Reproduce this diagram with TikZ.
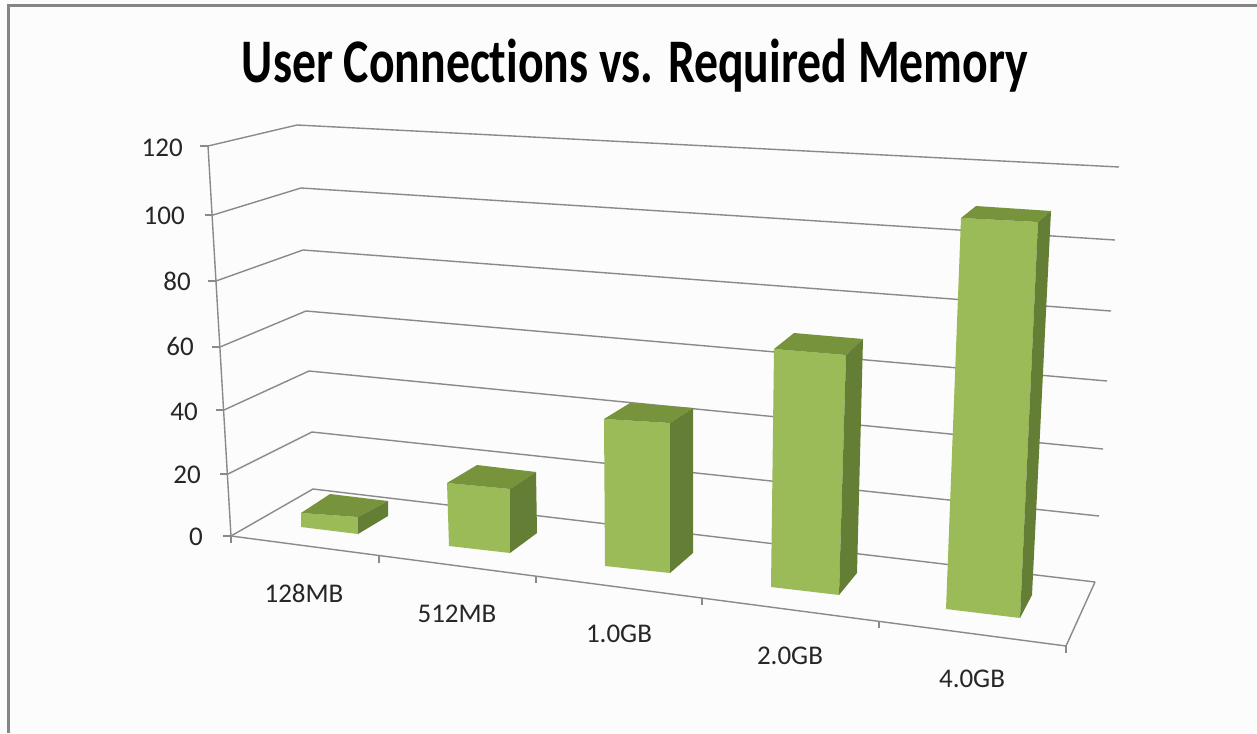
\documentclass[tikz,border=0pt]{standalone}
\usepackage{fontspec}
\setmainfont{Carlito}[Ligatures=NoCommon]
\definecolor{gridgray}{HTML}{8A8A8A}
\definecolor{framegray}{HTML}{858585}
\definecolor{barfront}{HTML}{9BBB59}
\definecolor{bartop}{HTML}{77933C}
\definecolor{barside}{HTML}{647F35}
\tikzset{
  grid line/.style={draw=gridgray, line width=1.4pt, line join=round},
  tick line/.style={draw=gridgray, line width=1.4pt},
  frame line/.style={draw=framegray, line width=3pt},
  front face/.style={fill=barfront, draw=none},
  top face/.style={fill=bartop, draw=none},
  side face/.style={fill=barside, draw=none},
  value label/.style={anchor=base east, inner sep=0pt, font=\fontsize{27}{32}\selectfont, text=black!85},
  cat label/.style={anchor=base, inner sep=0pt, font=\fontsize{27}{32}\selectfont, text=black!85},
  title label/.style={anchor=base, inner sep=0pt, font=\fontsize{62}{72}\selectfont\bfseries}
}
\begin{document}
\begin{tikzpicture}[x=1pt, y=-1pt]
\useasboundingbox (0,0) rectangle (1257,733);
\fill[white!99!black] (0,0) rectangle (1257,733);

% chart frame
\draw[frame line] (8,733) -- (8,6) -- (1257,6);

% title
\node[title label] (title) at (635,83) {\scalebox{0.77}[1]{User Connections vs. Required Memory}};

% wall corners: axis point, back corner, back-right end for each value level
\foreach \v/\ax/\ay/\bx/\by/\rx/\ry in {
  120/208/146/297/125/1119/167,
  100/213/215/301/188/1115/240,
  80/216/281/303/250/1111/311,
  60/220/347/306/311/1107/381,
  40/224/410/309/371/1103/449,
  20/228/474/312/432/1099/516,
  0/231/536/313/489/1095/582}{
  \coordinate (a\v) at (\ax,\ay);
  \coordinate (b\v) at (\bx,\by);
  \coordinate (r\v) at (\rx,\ry);
  \draw[grid line] (a\v) -- (b\v) -- (r\v);
  \draw[tick line] (a\v) -- ++(-8,0);
}

% value axis
\draw[grid line] (a120) -- (a0);

% floor front and right edges
\coordinate (fr) at (1066,646);
\draw[grid line] (a0) -- (fr) -- (r0);

% category ticks along the front edge
\foreach \tx/\ty in {231/536, 379/555.5, 536/576, 702/598, 879/621, 1066/646}{
  \draw[tick line] (\tx,\ty) -- ++(0,7);
}

% value labels
\node[value label] (v120) at (183,156) {120};
\node[value label] (v100) at (185,224) {100};
\node[value label] (v80)  at (191,290) {80};
\node[value label] (v60)  at (194,355) {60};
\node[value label] (v40)  at (198,420) {40};
\node[value label] (v20)  at (201,483) {20};
\node[value label] (v0)   at (203,545) {0};

% bars: front / top / side faces
% 128MB
\fill[front face] (301,513) -- (358,517) -- (358,534) -- (301,527) -- cycle;
\fill[top face]   (301,513) -- (330,494) -- (388,501) -- (358,517) -- cycle;
\fill[side face]  (358,517) -- (388,501) -- (388,516) -- (358,534) -- cycle;
% 512MB
\fill[front face] (447,483) -- (510,489) -- (510,553) -- (449,546) -- cycle;
\fill[top face]   (447,483) -- (477,465) -- (536,472) -- (510,489) -- cycle;
\fill[side face]  (510,489) -- (536,472) -- (537,533) -- (510,553) -- cycle;
% 1.0GB
\fill[front face] (604,419) -- (670,423) -- (670,573) -- (605,566) -- cycle;
\fill[top face]   (604,419) -- (630,403) -- (693,408) -- (670,423) -- cycle;
\fill[side face]  (670,423) -- (693,408) -- (693,553) -- (670,573) -- cycle;
% 2.0GB
\fill[front face] (774,349) -- (846,355) -- (839,595) -- (771,587) -- cycle;
\fill[top face]   (774,349) -- (794,333) -- (863,339) -- (846,355) -- cycle;
\fill[side face]  (846,355) -- (863,339) -- (857,573) -- (839,595) -- cycle;
% 4.0GB
\fill[front face] (961,218) -- (1038,222) -- (1020,618) -- (946,609) -- cycle;
\fill[top face]   (961,218) -- (976,206) -- (1051,211) -- (1038,222) -- cycle;
\fill[side face]  (1038,222) -- (1051,211) -- (1032,595) -- (1020,618) -- cycle;

% category labels
\node[cat label] (c1) at (304,602) {128MB};
\node[cat label] (c2) at (457,622) {512MB};
\node[cat label] (c3) at (619,642) {1.0GB};
\node[cat label] (c4) at (790,664) {2.0GB};
\node[cat label] (c5) at (972,687) {4.0GB};
\end{tikzpicture}
\end{document}
